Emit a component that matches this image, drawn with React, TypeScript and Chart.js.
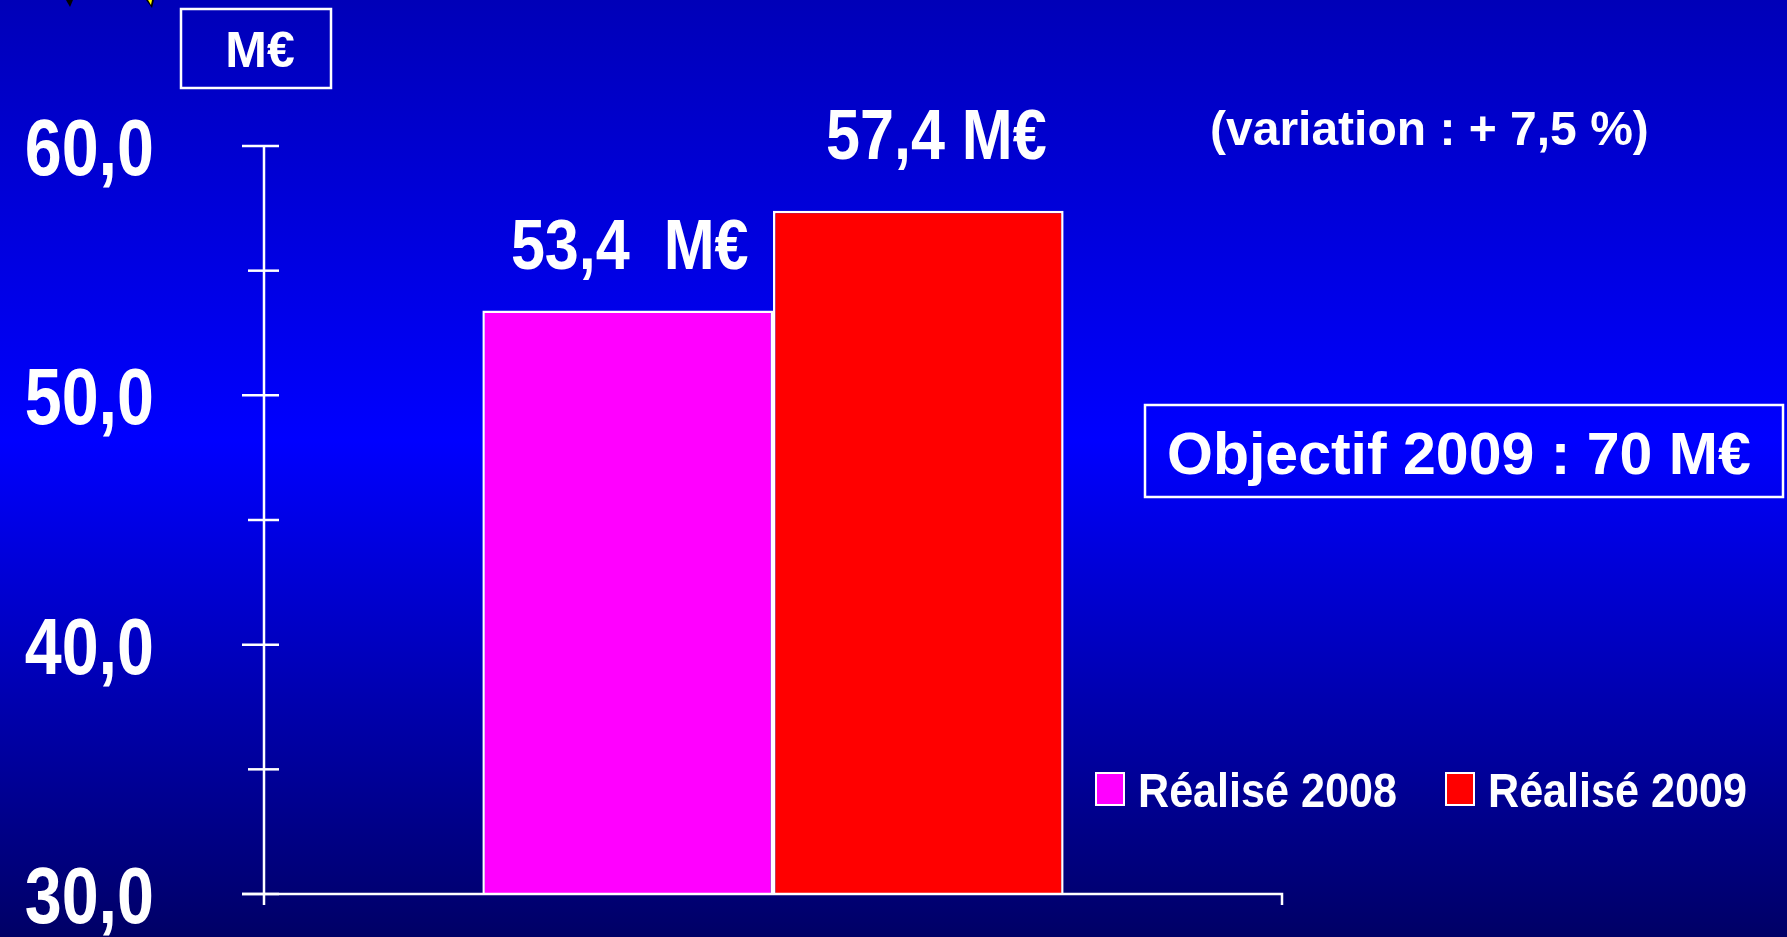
import React, { useEffect, useRef } from "react";
import { Chart, registerables } from "chart.js";

Chart.register(...registerables);

// ---- data ----
const categories = ["Réalisé"];
const seriesNames = ["Réalisé 2008", "Réalisé 2009"];
const seriesValues = [53.4, 57.4];
const seriesColors = ["#FF00FF", "#FF0000"];
const valueSuffixes = ["  M€", " M€"];
const yMin = 30;
const yMax = 60;
const yStep = 5;
const yLabelStep = 10;
const unitLabel = "M€";
const variationText = "(variation : + 7,5 %)";
const objectiveText = "Objectif 2009 : 70 M€";

const FONT = '"Liberation Sans", Arial, Helvetica, sans-serif';

function drawText(
  ctx: CanvasRenderingContext2D,
  text: string,
  x: number,
  y: number,
  size: number,
  sx: number,
  align: CanvasTextAlign
) {
  ctx.save();
  ctx.font = `bold ${size}px ${FONT}`;
  ctx.textAlign = align;
  ctx.textBaseline = "alphabetic";
  ctx.fillStyle = "#FFFFFF";
  ctx.translate(x, y);
  ctx.scale(sx, 1);
  ctx.fillText(text, 0, 0);
  ctx.restore();
}

const fmt = (v: number) => v.toFixed(1).replace(".", ",");

const backgroundPlugin = {
  id: "bgGradient",
  beforeDraw(chart: any) {
    const { ctx, width, height } = chart;
    const g = ctx.createLinearGradient(0, 0, 0, height);
    g.addColorStop(0, "#0000B8");
    g.addColorStop(0.47, "#0000FF");
    g.addColorStop(1, "#000066");
    ctx.save();
    ctx.fillStyle = g;
    ctx.fillRect(0, 0, width, height);
    ctx.restore();
  },
};

const overlayPlugin = {
  id: "overlay",
  afterDatasetsDraw(chart: any) {
    const { ctx, chartArea, scales } = chart;
    const y = scales.y;
    const left = chartArea.left;
    const right = chartArea.right;
    const bottom = chartArea.bottom;
    const top = y.getPixelForValue(yMax);

    ctx.save();
    ctx.strokeStyle = "#FFFFFF";
    ctx.lineWidth = 2.5;
    ctx.lineCap = "butt";
    // y axis line
    ctx.beginPath();
    ctx.moveTo(left, top);
    ctx.lineTo(left, bottom + 11);
    ctx.stroke();
    // x axis line
    ctx.beginPath();
    ctx.moveTo(left - 22, bottom);
    ctx.lineTo(right, bottom);
    ctx.lineTo(right, bottom + 11);
    ctx.stroke();
    // y ticks
    for (const t of y.ticks) {
      const py = y.getPixelForValue(t.value);
      const major = Math.abs(t.value % yLabelStep) < 1e-9;
      ctx.beginPath();
      ctx.moveTo(left - (major ? 22 : 16), py);
      ctx.lineTo(left + 15, py);
      ctx.stroke();
      if (major) {
        drawText(ctx, fmt(t.value), left - 110, py + 29, 80, 0.83, "right");
      }
    }
    ctx.restore();

    // value labels
    const dxs = [2, 18];
    const dys = [-42, -52];
    chart.data.datasets.forEach((ds: any, i: number) => {
      const meta = chart.getDatasetMeta(i);
      const el = meta.data[0];
      if (!el) return;
      drawText(ctx, fmt(seriesValues[i]) + valueSuffixes[i], el.x + dxs[i], el.y + dys[i], 71, 0.86, "center");
    });

    // unit box
    ctx.save();
    ctx.strokeStyle = "#FFFFFF";
    ctx.lineWidth = 2.5;
    ctx.strokeRect(181, 9, 150, 79);
    ctx.restore();
    drawText(ctx, unitLabel, 260, 67, 50, 1.0, "center");

    // variation
    drawText(ctx, variationText, 1210, 145, 48, 1.0, "left");

    // objective box
    ctx.save();
    ctx.strokeStyle = "#FFFFFF";
    ctx.lineWidth = 2.5;
    ctx.strokeRect(1145, 405, 638, 92);
    ctx.restore();
    drawText(ctx, objectiveText, 1167, 474, 59, 1.0, "left");

    // legend
    const legendX = [1096, 1446];
    chart.data.datasets.forEach((ds: any, i: number) => {
      const bx = legendX[i];
      ctx.save();
      ctx.fillStyle = ds.backgroundColor;
      ctx.fillRect(bx, 773, 28, 32);
      ctx.strokeStyle = "#FFFFFF";
      ctx.lineWidth = 2;
      ctx.strokeRect(bx, 773, 28, 32);
      ctx.restore();
      drawText(ctx, ds.label, bx + 42, 807, 49, 0.88, "left");
    });

    // clip-art fragments at the top edge
    ctx.save();
    ctx.fillStyle = "#000000";
    ctx.beginPath();
    ctx.moveTo(66, 0);
    ctx.lineTo(73, 0);
    ctx.lineTo(70, 7);
    ctx.closePath();
    ctx.fill();
    ctx.beginPath();
    ctx.moveTo(146, 0);
    ctx.lineTo(154, 0);
    ctx.lineTo(152, 8);
    ctx.closePath();
    ctx.fill();
    ctx.fillStyle = "#FFFF00";
    ctx.beginPath();
    ctx.moveTo(148, 0);
    ctx.lineTo(152, 0);
    ctx.lineTo(151, 5);
    ctx.closePath();
    ctx.fill();
    ctx.restore();
  },
};

export default function App() {
  const ref = useRef<HTMLCanvasElement | null>(null);

  useEffect(() => {
    if (!ref.current) return;
    const chart = new Chart(ref.current, {
      type: "bar",
      data: {
        labels: categories,
        datasets: seriesNames.map((name, i) => ({
          label: name,
          data: [seriesValues[i]],
          backgroundColor: seriesColors[i],
          borderColor: "#FFFFFF",
          borderWidth: 2.5,
          categoryPercentage: 0.571,
          barPercentage: 1,
        })),
      },
      options: {
        animation: false,
        responsive: true,
        maintainAspectRatio: false,
        layout: { padding: { left: 0, top: 146, right: 505, bottom: 43 } },
        plugins: {
          legend: { display: false },
          tooltip: { enabled: false },
        },
        scales: {
          x: {
            type: "category",
            offset: true,
            ticks: { display: false },
            grid: { display: false },
            border: { display: false },
            afterFit: (s: any) => {
              s.height = 0;
            },
          },
          y: {
            type: "linear",
            min: yMin,
            max: yMax,
            beginAtZero: false,
            ticks: { display: false, stepSize: yStep },
            grid: { display: false },
            border: { display: false },
            afterFit: (s: any) => {
              s.width = 264;
            },
          },
        },
      } as any,
      plugins: [backgroundPlugin, overlayPlugin],
    });
    return () => chart.destroy();
  }, []);

  return (
    <div style={{ position: "absolute", left: 0, top: 0, width: 1787, height: 937 }}>
      <canvas ref={ref} />
    </div>
  );
}
